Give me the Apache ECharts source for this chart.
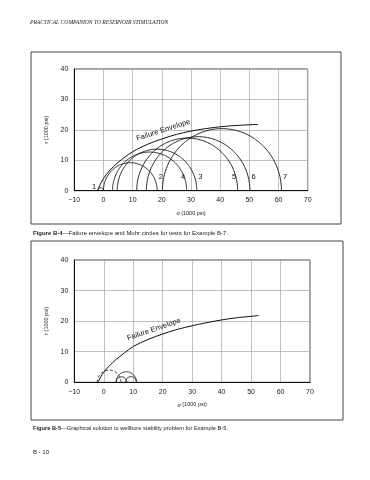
<!DOCTYPE html>
<html><head><meta charset="utf-8">
<script src="https://cdn.jsdelivr.net/npm/echarts@6/dist/echarts.min.js"></script>
<style>html,body{margin:0;padding:0;background:#fff}#c{width:370px;height:480px}</style>
</head><body><div id="c"></div>
<script>
// ---- data ----
const xTicks = [-10, 0, 10, 20, 30, 40, 50, 60, 70];
const yTicks = [0, 10, 20, 30, 40];
// Figure B-4: Mohr circles (sigma3, sigma1) per test
const testNames = ['1', '2', '3', '4', '5', '6', '7'];
const sigma3 = [-2, 0, 4.7, 3.1, 11.4, 14.7, 20.2];
const sigma1 = [0, 18.4, 32, 28.5, 46, 50.2, 61];
const labelEnd = ['lo', 'hi', 'hi', 'hi', 'hi', 'hi', 'hi'];
const labelSide = ['left', 'right', 'right', 'left', 'left', 'right', 'right'];
// Failure envelope, Figure B-4
const env1Sigma = [-2, -1, 0, 2, 5, 10, 15, 20, 25, 30, 35, 40, 45, 52.9];
const env1Tau = [0, 2.3, 4, 6.5, 9.3, 12.8, 15.2, 17, 18.5, 19.6, 20.4, 21, 21.4, 21.8];
// Figure B-5: envelope and circles
const env2Sigma = [-2, -1, 0, 2, 4, 7, 10, 15, 20, 25, 30, 35, 40, 45, 52.5];
const env2Tau = [0, 1.8, 3.3, 5.5, 7.3, 9.6, 11.7, 14, 15.8, 17.3, 18.5, 19.5, 20.4, 21.1, 21.8];
const c2Lo = [-2.2, 4.2, 4.2, 7.4];
const c2Hi = [5.8, 11.1, 7.8, 11.1];
const c2Dashed = [true, false, false, false];

const chart = echarts.init(document.getElementById('c'), null, {renderer: 'canvas'});
const FONT = 'Liberation Sans';

function semicircle(params, api) {
  const lo = api.value(0), hi = api.value(1), dashed = api.value(2);
  const c = (lo + hi) / 2, r = (hi - lo) / 2;
  const pts = [];
  for (let k = 0; k <= 120; k++) {
    const a = Math.PI * k / 120;
    pts.push(api.coord([c + r * Math.cos(a), r * Math.sin(a)]));
  }
  return {type: 'polyline', shape: {points: pts},
    style: {stroke: '#111', lineWidth: 0.9, fill: null, lineDash: dashed ? [3, 2] : null}};
}
function circleLabel(params, api) {
  const i = params.dataIndex;
  const anchor = labelEnd[i] === 'lo' ? sigma3[i] : sigma1[i];
  const tau = labelEnd[i] === 'lo' ? 1.3 : 4.4;
  const p = api.coord([anchor, tau]);
  const left = labelSide[i] === 'left';
  return {type: 'text', x: p[0] + (left ? -1.5 : 1.5), y: p[1],
    style: {text: testNames[i], fill: '#111', font: '7.5px ' + FONT, align: left ? 'right' : 'left', verticalAlign: 'middle'}};
}

function xAxis(gi) {
  return {gridIndex: gi, type: 'value', min: -10, max: 70, interval: 10,
    name: '{i|σ} (1000 psi)', nameLocation: 'middle', nameGap: 19,
    nameTextStyle: {fontFamily: FONT, fontSize: 5.5, color: '#222', rich: {i: {fontStyle: 'italic', fontFamily: 'Liberation Serif', fontSize: 6.5}}},
    axisLine: {show: true, onZero: false, lineStyle: {color: '#111', width: 1}},
    axisTick: {show: false},
    axisLabel: {fontFamily: FONT, fontSize: 7, color: '#222', margin: 6,
      formatter: v => (v < 0 ? '\u2212' + Math.abs(v) : String(v))},
    splitLine: {show: true, lineStyle: {color: '#b0b0b0', width: 0.8}}};
}
function yAxis(gi) {
  return {gridIndex: gi, type: 'value', min: 0, max: 40, interval: 10,
    name: '{i|τ} (1000 psi)', nameLocation: 'middle', nameGap: 24, nameRotate: 90,
    nameTextStyle: {fontFamily: FONT, fontSize: 5.5, color: '#222', rich: {i: {fontStyle: 'italic', fontFamily: 'Liberation Serif', fontSize: 6.5}}},
    axisLine: {show: true, onZero: false, lineStyle: {color: '#111', width: 1}},
    axisTick: {show: false},
    axisLabel: {fontFamily: FONT, fontSize: 7, color: '#222', margin: 6},
    splitLine: {show: true, lineStyle: {color: '#b0b0b0', width: 0.8}}};
}

const option = {
  backgroundColor: '#fff',
  animation: false,
  grid: [
    {left: 74.3, top: 69, width: 233.4, height: 121.7, show: true, borderColor: '#444', borderWidth: 1, containLabel: false},
    {left: 74.3, top: 260, width: 235.7, height: 122.3, show: true, borderColor: '#444', borderWidth: 1, containLabel: false}
  ],
  xAxis: [xAxis(0), xAxis(1)],
  yAxis: [yAxis(0), yAxis(1)],
  series: [
    {type: 'custom', xAxisIndex: 0, yAxisIndex: 0, renderItem: semicircle,
      data: sigma3.map((s, i) => [s, sigma1[i], 0]), silent: true},
    {type: 'custom', xAxisIndex: 0, yAxisIndex: 0, renderItem: circleLabel,
      data: sigma3.map((s, i) => [s, sigma1[i]]), silent: true},
    {type: 'line', xAxisIndex: 0, yAxisIndex: 0, smooth: 0.35, symbol: 'none',
      lineStyle: {color: '#111', width: 1},
      data: env1Sigma.map((s, i) => [s, env1Tau[i]])},
    {type: 'custom', xAxisIndex: 1, yAxisIndex: 1, renderItem: semicircle,
      data: c2Lo.map((s, i) => [s, c2Hi[i], c2Dashed[i] ? 1 : 0]), silent: true},
    {type: 'line', xAxisIndex: 1, yAxisIndex: 1, smooth: 0.35, symbol: 'none',
      lineStyle: {color: '#111', width: 1},
      data: env2Sigma.map((s, i) => [s, env2Tau[i]])}
  ],
  graphic: [
    {type: 'text', left: 30, top: 20, style: {text: 'PRACTICAL COMPANION TO RESERVOIR STIMULATION',
      font: 'italic 5.6px "Liberation Serif"', fill: '#222'}},
    {type: 'rect', shape: {x: 31, y: 52, width: 310, height: 172}, style: {fill: null, stroke: '#444', lineWidth: 1}},
    {type: 'rect', shape: {x: 31, y: 241, width: 312, height: 179}, style: {fill: null, stroke: '#444', lineWidth: 1}},
    {type: 'text', x: 33, y: 233, style: {text: '{b|Figure B-4}—Failure envelope and Mohr circles for tests for Example B-7.',
      font: '6px "Liberation Sans"', fill: '#222', verticalAlign: 'middle',
      rich: {b: {fontWeight: 'bold', fontSize: 6, fontFamily: 'Liberation Sans'}}}},
    {type: 'text', x: 33, y: 428, style: {text: '{b|Figure B-5}—Graphical solution to wellbore stability problem for Example B-5.',
      font: '5.7px "Liberation Sans"', fill: '#222', verticalAlign: 'middle',
      rich: {b: {fontWeight: 'bold', fontSize: 5.7, fontFamily: 'Liberation Sans'}}}},
    {type: 'text', x: 33, y: 452, style: {text: 'B - 10', font: '6px "Liberation Sans"', fill: '#222', verticalAlign: 'middle'}}
  ]
};
chart.setOption(option);

// rotated "Failure Envelope" labels positioned via the axes
function placeEnvLabel(gi, s, t, rot) {
  const p = chart.convertToPixel({xAxisIndex: gi, yAxisIndex: gi}, [s, t]);
  return {type: 'text', x: p[0], y: p[1], rotation: rot * Math.PI / 180,
    style: {text: 'Failure Envelope', font: '7.5px "Liberation Sans"', fill: '#111', align: 'center', verticalAlign: 'middle'}};
}
chart.setOption({graphic: option.graphic.concat([
  placeEnvLabel(0, 20.5, 19.9, 18),
  placeEnvLabel(1, 17, 17.3, 19)
])}, {replaceMerge: ['graphic']});
</script></body></html>
